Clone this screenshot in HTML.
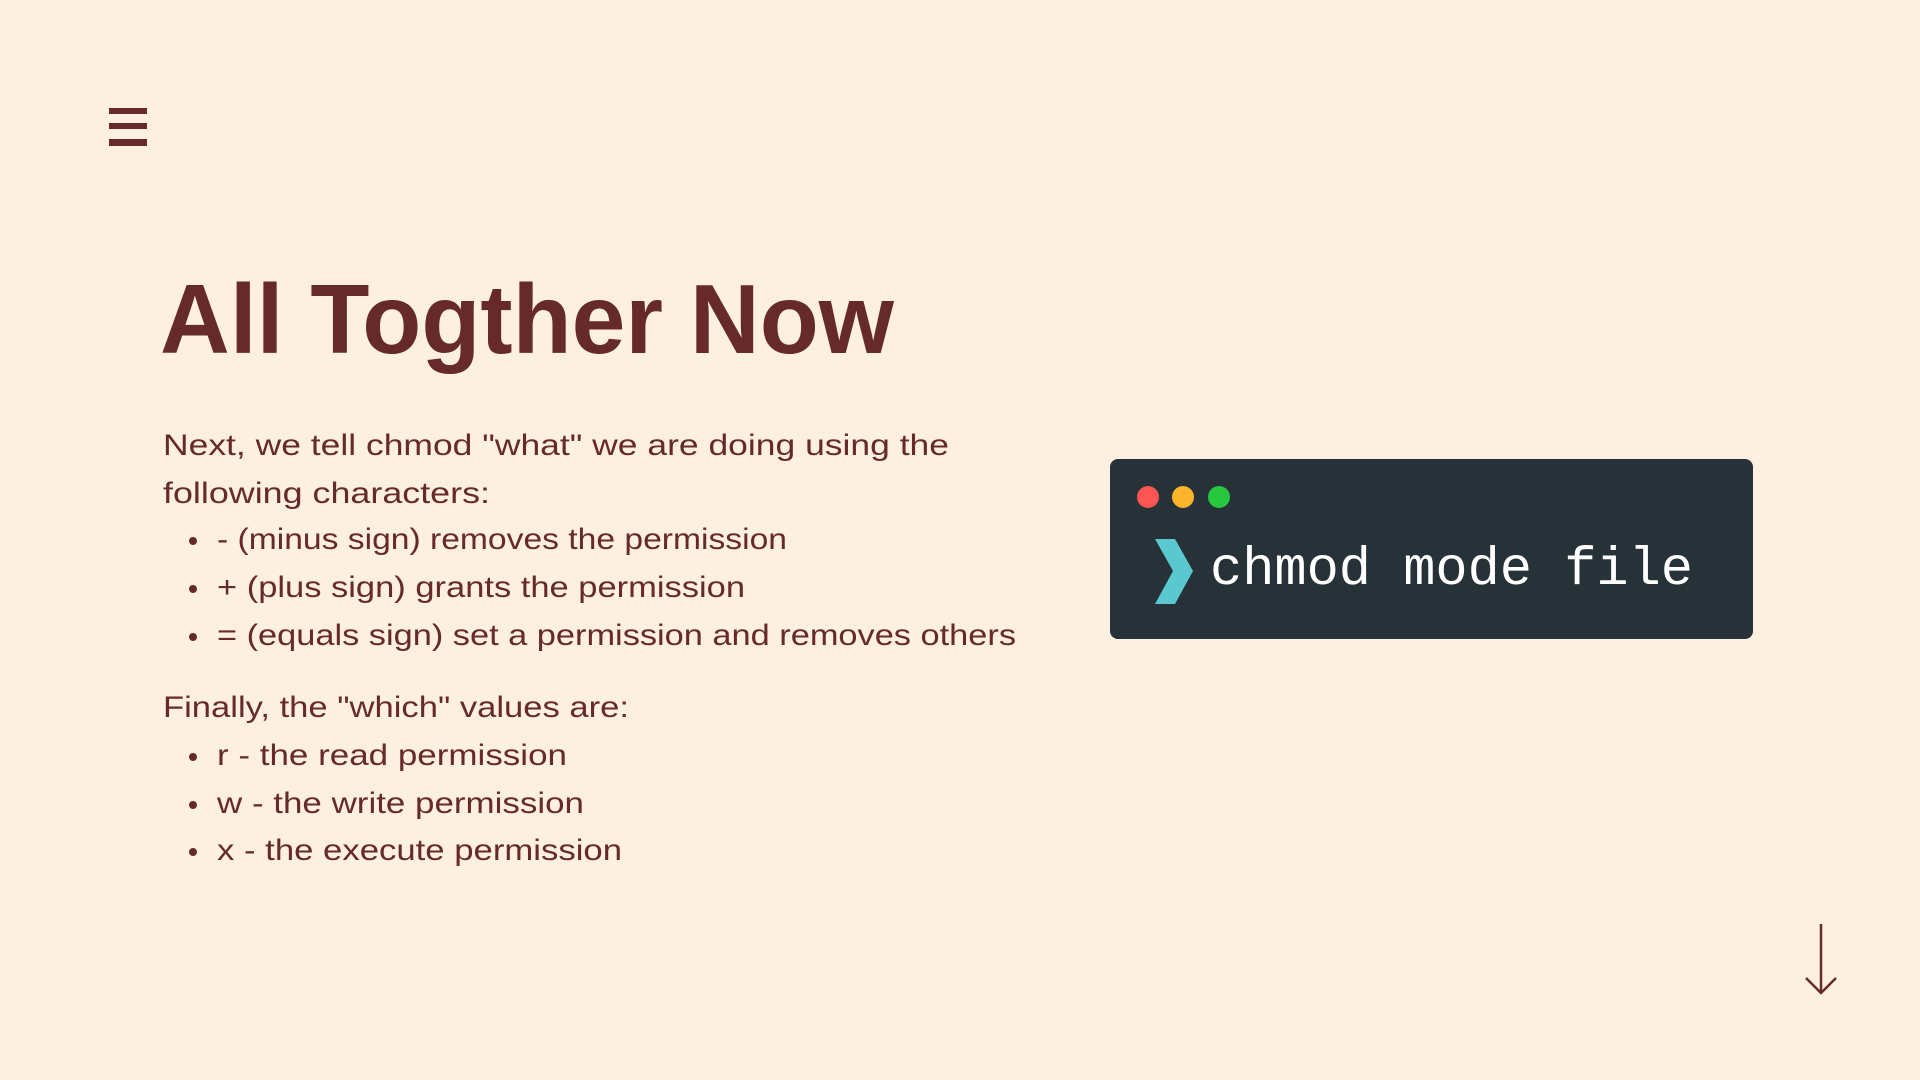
<!DOCTYPE html>
<html><head><meta charset="utf-8"><style>
html,body{margin:0;padding:0;background:#fef0e1;}
svg{display:block;}
</style></head><body>
<svg width="1920" height="1080" viewBox="0 0 1920 1080" xmlns="http://www.w3.org/2000/svg">
<rect width="1920" height="1080" fill="#fef0e1"/>
<g fill="#662a2c">
<rect x="109" y="108" width="38" height="6"/>
<rect x="109" y="123" width="38" height="6"/>
<rect x="109" y="139" width="38" height="7"/>
</g>
<text x="160" y="353" font-family="Liberation Sans, sans-serif" font-size="98" font-weight="bold" fill="#662a2c" textLength="734" lengthAdjust="spacingAndGlyphs">All Togther Now</text>
<g font-family="Liberation Sans, sans-serif" font-size="30" fill="#662a2c">
<text x="163" y="455" textLength="786" lengthAdjust="spacingAndGlyphs">Next, we tell chmod "what" we are doing using the</text>
<text x="163" y="503" textLength="327" lengthAdjust="spacingAndGlyphs">following characters:</text>
<circle cx="193" cy="541" r="4"/>
<text x="217" y="549" textLength="570" lengthAdjust="spacingAndGlyphs">- (minus sign) removes the permission</text>
<circle cx="193" cy="589" r="4"/>
<text x="217" y="597" textLength="528" lengthAdjust="spacingAndGlyphs">+ (plus sign) grants the permission</text>
<circle cx="193" cy="637" r="4"/>
<text x="217" y="645" textLength="799" lengthAdjust="spacingAndGlyphs">= (equals sign) set a permission and removes others</text>
<text x="163" y="717" textLength="466" lengthAdjust="spacingAndGlyphs">Finally, the "which" values are:</text>
<circle cx="193" cy="757" r="4"/>
<text x="217" y="765" textLength="350" lengthAdjust="spacingAndGlyphs">r - the read permission</text>
<circle cx="193" cy="805" r="4"/>
<text x="217" y="813" textLength="367" lengthAdjust="spacingAndGlyphs">w - the write permission</text>
<circle cx="193" cy="852" r="4"/>
<text x="217" y="860" textLength="405" lengthAdjust="spacingAndGlyphs">x - the execute permission</text>
</g>
<rect x="1110" y="459" width="643" height="180" rx="8" fill="#263238"/>
<circle cx="1148" cy="497" r="11" fill="#fd5552"/>
<circle cx="1183" cy="497" r="11" fill="#fcb52a"/>
<circle cx="1219" cy="497" r="11" fill="#28c83e"/>
<polygon points="1155,539 1175,539 1193,571 1175,604 1155,604 1173,571" fill="#5bc7cf"/>
<text x="1210" y="584" font-family="Liberation Mono, monospace" font-size="54" fill="#ffffff" textLength="483" lengthAdjust="spacingAndGlyphs">chmod mode file</text>
<g stroke="#662a2c" stroke-width="2.5" fill="none">
<line x1="1821" y1="924" x2="1821" y2="993"/>
<polyline points="1806,978 1821,993 1836,978"/>
</g>
</svg>
</body></html>
